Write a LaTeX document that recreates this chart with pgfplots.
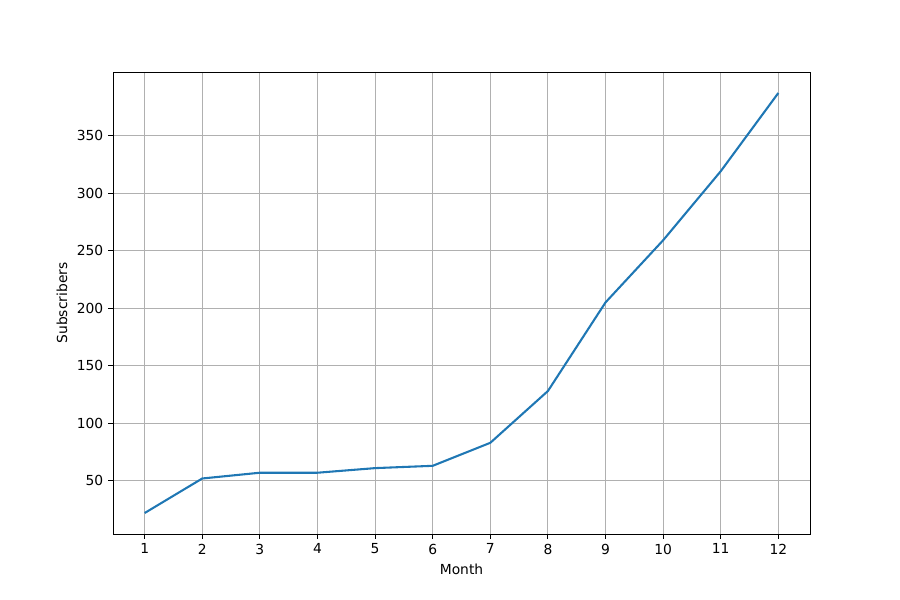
\documentclass[border=0pt]{standalone}
\usepackage{pgfplots}
\pgfplotsset{compat=1.18}
\usepackage{fontspec}
\setmainfont{DejaVu Sans}
\definecolor{mplblue}{HTML}{1F77B4}
\definecolor{gridgray}{HTML}{B0B0B0}
\begin{document}
\fontsize{10}{12}\selectfont
\begin{tikzpicture}
\useasboundingbox (-1.13in,-0.66in) rectangle (7.87in,5.34in);
\begin{axis}[
  at={(0,0)}, anchor=south west,
  scale only axis,
  width=6.97in, height=4.62in,
  xmin=0.45, xmax=12.55,
  ymin=3.75, ymax=405.25,
  xtick={1,...,12},
  ytick={50,100,...,350},
  grid=major,
  major grid style={color=gridgray, line width=0.8pt},
  tick align=outside,
  tick pos=left,
  major tick length=3.5pt,
  every tick/.style={black, line width=0.8pt},
  axis line style={line width=0.6pt},
  /pgf/number format/assume math mode=true,
  ticklabel style={font=\fontsize{10}{12}\selectfont},
  xlabel={Month}, ylabel={Subscribers},
  label style={font=\fontsize{10}{12}\selectfont},
  xlabel style={yshift=0pt},
  ylabel style={yshift=0pt},
]
\addplot[mplblue, line width=1.5pt, no marks] coordinates {
(1,22) (2,52) (3,57) (4,57) (5,61) (6,63) (7,83) (8,128) (9,205) (10,259) (11,319) (12,387)
};
\end{axis}
\end{tikzpicture}
\end{document}
